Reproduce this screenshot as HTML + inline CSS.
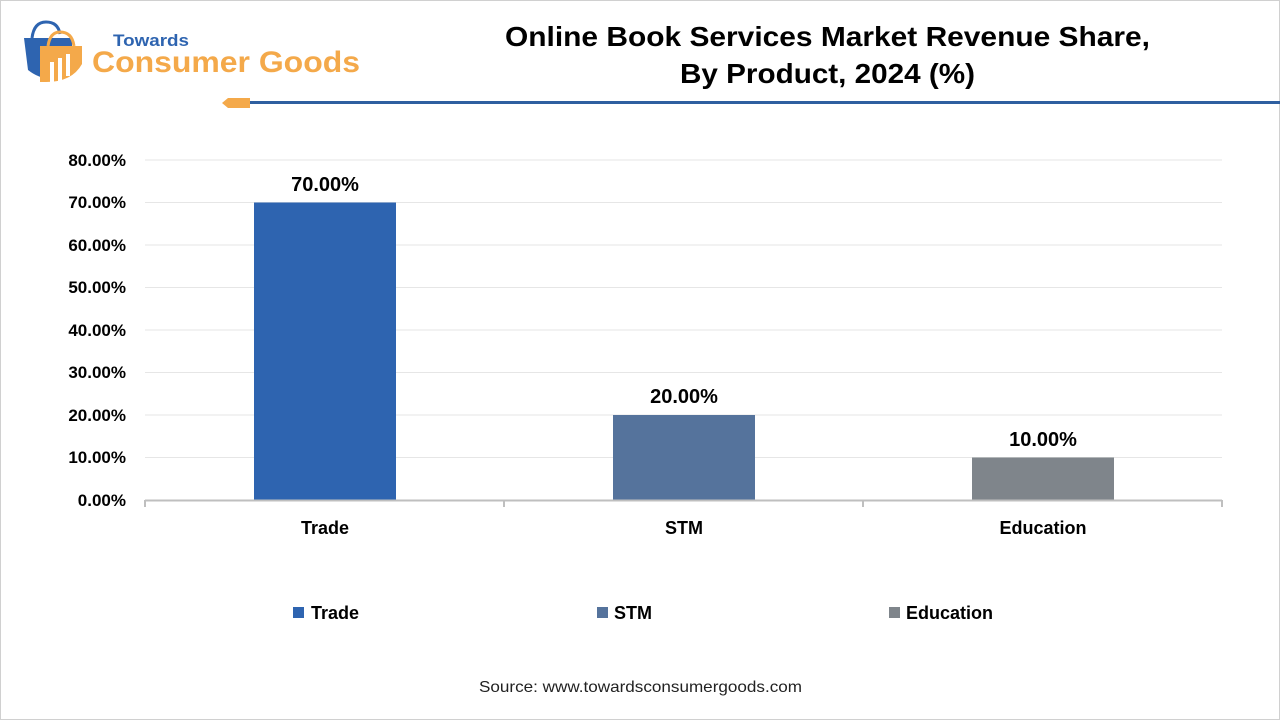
<!DOCTYPE html>
<html><head><style>
body{margin:0;width:1280px;height:720px;background:#fff;font-family:"Liberation Sans",sans-serif;overflow:hidden}
</style></head><body>
<svg width="1280" height="720" xmlns="http://www.w3.org/2000/svg" font-family="Liberation Sans, sans-serif">
<rect x="0.5" y="0.5" width="1279" height="719" fill="#fff" stroke="#d0d0d0"/>
<!-- logo -->
<path d="M24 38 L72 38 L72 72 Q48 86 28 70 Z" fill="#2e64b0"/>
<path d="M32 38 Q34 22 46 22 Q58 22 60 34" fill="none" stroke="#2e64b0" stroke-width="3"/>
<path d="M40 46 L82 46 L82 64 Q72 82 46 82 L40 82 Z" fill="#f4a94a"/>
<path d="M48 46 Q50 32 60 32 Q72 32 74 46" fill="none" stroke="#f4a94a" stroke-width="3"/>
<rect x="50" y="62" width="4" height="20" fill="#fff"/><rect x="58" y="58" width="4" height="24" fill="#fff"/><rect x="66" y="54" width="4" height="22" fill="#fff"/>
<text x="113" y="46" font-size="17" font-weight="bold" fill="#2e64b0" textLength="76" lengthAdjust="spacingAndGlyphs">Towards</text>
<text x="92" y="72" font-size="30" font-weight="bold" fill="#f4a94a" textLength="268" lengthAdjust="spacingAndGlyphs">Consumer Goods</text>
<path d="M222 103 L228 98 L250 98 L250 108 L228 108 Z" fill="#f4a94a"/>
<rect x="250" y="101" width="1030" height="3" fill="#2e5fa0"/>
<text x="505" y="46" font-size="28" font-weight="bold" fill="#000" textLength="645" lengthAdjust="spacingAndGlyphs">Online Book Services Market Revenue Share,</text>
<text x="680" y="83" font-size="28" font-weight="bold" fill="#000" textLength="295" lengthAdjust="spacingAndGlyphs">By Product, 2024 (%)</text>
<!-- grid -->
<g stroke="#e6e6e6" stroke-width="1">
<line x1="145" x2="1222" y1="160" y2="160"/><line x1="145" x2="1222" y1="202.5" y2="202.5"/>
<line x1="145" x2="1222" y1="245" y2="245"/><line x1="145" x2="1222" y1="287.5" y2="287.5"/>
<line x1="145" x2="1222" y1="330" y2="330"/><line x1="145" x2="1222" y1="372.5" y2="372.5"/>
<line x1="145" x2="1222" y1="415" y2="415"/><line x1="145" x2="1222" y1="457.5" y2="457.5"/>
</g>
<g font-size="17" font-weight="bold" text-anchor="end" fill="#000">
<text x="126" y="166">80.00%</text><text x="126" y="208">70.00%</text><text x="126" y="251">60.00%</text>
<text x="126" y="293">50.00%</text><text x="126" y="336">40.00%</text><text x="126" y="378">30.00%</text>
<text x="126" y="421">20.00%</text><text x="126" y="463">10.00%</text><text x="126" y="506">0.00%</text>
</g>
<rect x="254" y="202.5" width="142" height="297.5" fill="#2e64b0"/>
<rect x="613" y="415" width="142" height="85" fill="#55739c"/>
<rect x="972" y="457.5" width="142" height="42.5" fill="#7f858b"/>
<g stroke="#bfbfbf" stroke-width="2" fill="none">
<line x1="145" x2="1222" y1="500.5" y2="500.5"/>
<line x1="145" x2="145" y1="500" y2="507"/><line x1="504" x2="504" y1="500" y2="507"/>
<line x1="863" x2="863" y1="500" y2="507"/><line x1="1222" x2="1222" y1="500" y2="507"/>
</g>
<g font-size="20" font-weight="bold" text-anchor="middle" fill="#000">
<text x="325" y="191">70.00%</text><text x="684" y="403">20.00%</text><text x="1043" y="446">10.00%</text>
</g>
<g font-size="18" font-weight="bold" text-anchor="middle" fill="#000">
<text x="325" y="534">Trade</text><text x="684" y="534">STM</text><text x="1043" y="534">Education</text>
</g>
<rect x="293" y="607" width="11" height="11" fill="#2e64b0"/>
<rect x="597" y="607" width="11" height="11" fill="#55739c"/>
<rect x="889" y="607" width="11" height="11" fill="#7f858b"/>
<g font-size="18" font-weight="bold" fill="#000">
<text x="311" y="619">Trade</text><text x="614" y="619">STM</text><text x="906" y="619">Education</text>
</g>
<text x="479" y="692" font-size="16" fill="#222" textLength="323" lengthAdjust="spacingAndGlyphs">Source: www.towardsconsumergoods.com</text>
</svg>
</body></html>
